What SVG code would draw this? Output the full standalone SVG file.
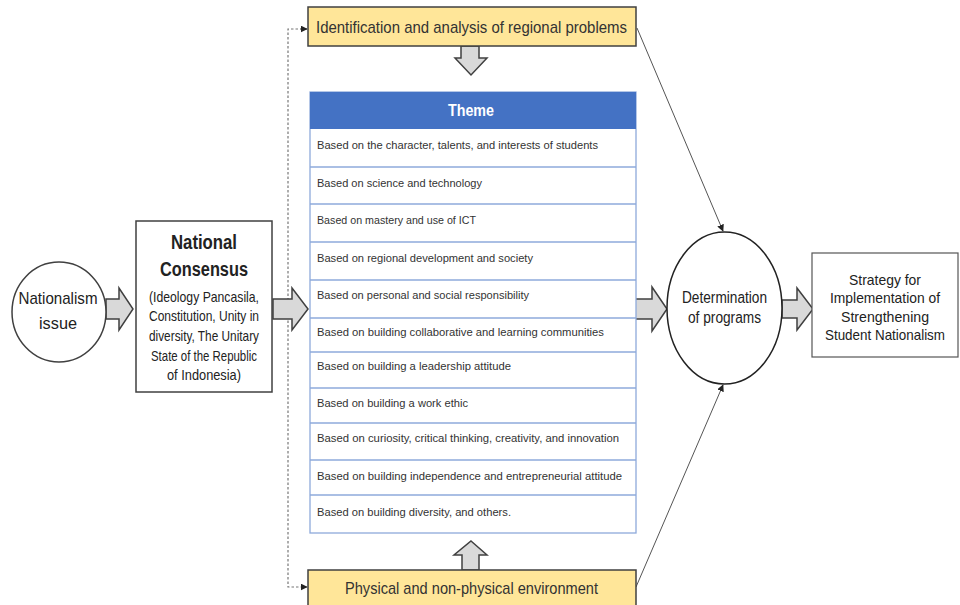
<svg xmlns="http://www.w3.org/2000/svg" width="960" height="605" viewBox="0 0 960 605">
<style>
.blk{fill:#d9d9d9;stroke:#404040;stroke-width:1.5;stroke-linejoin:miter}
.bx{fill:#ffffff;stroke:#404040;stroke-width:1.5}
.yl{fill:#ffe699;stroke:#404040;stroke-width:1.5}
.t{font-family:"Liberation Sans",Arial,sans-serif;fill:#222;text-anchor:middle}
.row{font-family:"Liberation Sans",Arial,sans-serif;font-size:11.5px;fill:#333}
.sep{stroke:#8eaadb;stroke-width:1.3}
.con{fill:none;stroke:#555;stroke-width:1}
.dash{fill:none;stroke:#777;stroke-width:1.2;stroke-dasharray:2.5 2}
.big{font-family:"Liberation Sans",Arial,sans-serif;fill:#333;text-anchor:middle;font-size:17px}
</style>
<defs>
<marker id="ah" viewBox="0 0 10 10" refX="9" refY="5" markerWidth="7" markerHeight="7" orient="auto" markerUnits="userSpaceOnUse">
<path d="M0,0 L10,5 L0,10 z" fill="#222"/>
</marker>
</defs>

<g id="connectors">
<path class="dash" d="M307,29 H288 V587 H307" marker-end="url(#ah)"/>
<path class="dash" d="M300,29 H307" marker-end="url(#ah)"/>
<line class="con" x1="637" y1="28" x2="723" y2="231" marker-end="url(#ah)"/>
<line class="con" x1="636" y1="587" x2="723" y2="385" marker-end="url(#ah)"/>
<polygon class="blk" points="106,299 119,299 119,288 133,309 119,330 119,319 106,319"/>
<polygon class="blk" points="273,299 292,299 292,288 308,309 292,330 292,319 273,319"/>
<polygon class="blk" points="635,299 652,299 652,287 667,309 652,331 652,319 635,319"/>
<polygon class="blk" points="782,300 797,300 797,288 813,309 797,330 797,318 782,318"/>
<polygon class="blk" points="461,46 479,46 479,58 487,58 471,75 455,58 461,58"/>
<polygon class="blk" points="471,541 487,555 479,555 479,570 462,570 462,555 454,555"/>
</g>

<g id="nationalism-issue">
<ellipse cx="59" cy="312" rx="47" ry="50" fill="#fff" stroke="#404040" stroke-width="1.5"/>
<text class="t" x="58" y="304" font-size="17" textLength="79" lengthAdjust="spacingAndGlyphs">Nationalism</text>
<text class="t" x="58" y="329" font-size="17" textLength="38" lengthAdjust="spacingAndGlyphs">issue</text>
</g>

<g id="national-consensus">
<rect class="bx" x="136" y="221" width="136" height="171"/>
<text class="t" x="204" y="249" font-size="20" font-weight="bold" textLength="66" lengthAdjust="spacingAndGlyphs">National</text>
<text class="t" x="204" y="276" font-size="20" font-weight="bold" textLength="88" lengthAdjust="spacingAndGlyphs">Consensus</text>
<text class="t" x="204" y="302" font-size="15" textLength="110" lengthAdjust="spacingAndGlyphs">(Ideology Pancasila,</text>
<text class="t" x="204" y="321" font-size="15" textLength="110" lengthAdjust="spacingAndGlyphs">Constitution, Unity in</text>
<text class="t" x="204" y="341" font-size="15" textLength="110" lengthAdjust="spacingAndGlyphs">diversity, The Unitary</text>
<text class="t" x="204" y="361" font-size="15" textLength="106" lengthAdjust="spacingAndGlyphs">State of the Republic</text>
<text class="t" x="204" y="380" font-size="15" textLength="74" lengthAdjust="spacingAndGlyphs">of Indonesia)</text>
</g>

<g id="regional-problems">
<rect class="yl" x="308" y="7" width="328" height="39"/>
<text class="big" x="471.5" y="33" textLength="311" lengthAdjust="spacingAndGlyphs">Identification and analysis of regional problems</text>
</g>

<g id="theme">
<rect x="310" y="92" width="326" height="441" fill="#fff" stroke="#8eaadb" stroke-width="1.3"/>
<rect x="310" y="92" width="326" height="37" fill="#4472c4"/>
<text x="471" y="116" font-family="'Liberation Sans',Arial,sans-serif" font-size="16" font-weight="bold" fill="#fff" text-anchor="middle" textLength="46" lengthAdjust="spacingAndGlyphs">Theme</text>
<line class="sep" x1="310" y1="167" x2="636" y2="167"/>
<line class="sep" x1="310" y1="204" x2="636" y2="204"/>
<line class="sep" x1="310" y1="242" x2="636" y2="242"/>
<line class="sep" x1="310" y1="280" x2="636" y2="280"/>
<line class="sep" x1="310" y1="318" x2="636" y2="318"/>
<line class="sep" x1="310" y1="352" x2="636" y2="352"/>
<line class="sep" x1="310" y1="388" x2="636" y2="388"/>
<line class="sep" x1="310" y1="423" x2="636" y2="423"/>
<line class="sep" x1="310" y1="460" x2="636" y2="460"/>
<line class="sep" x1="310" y1="495" x2="636" y2="495"/>
<text class="row" x="317" y="149" textLength="281" lengthAdjust="spacingAndGlyphs">Based on the character, talents, and interests of students</text>
<text class="row" x="317" y="187" textLength="165" lengthAdjust="spacingAndGlyphs">Based on science and technology</text>
<text class="row" x="317" y="224" textLength="159" lengthAdjust="spacingAndGlyphs">Based on mastery and use of ICT</text>
<text class="row" x="317" y="262" textLength="216" lengthAdjust="spacingAndGlyphs">Based on regional development and society</text>
<text class="row" x="317" y="299" textLength="212" lengthAdjust="spacingAndGlyphs">Based on personal and social responsibility</text>
<text class="row" x="317" y="336" textLength="287" lengthAdjust="spacingAndGlyphs">Based on building collaborative and learning communities</text>
<text class="row" x="317" y="370" textLength="194" lengthAdjust="spacingAndGlyphs">Based on building a leadership attitude</text>
<text class="row" x="317" y="407" textLength="151" lengthAdjust="spacingAndGlyphs">Based on building a work ethic</text>
<text class="row" x="317" y="442" textLength="302" lengthAdjust="spacingAndGlyphs">Based on curiosity, critical thinking, creativity, and innovation</text>
<text class="row" x="317" y="480" textLength="305" lengthAdjust="spacingAndGlyphs">Based on building independence and entrepreneurial attitude</text>
<text class="row" x="317" y="516" textLength="194" lengthAdjust="spacingAndGlyphs">Based on building diversity, and others.</text>
</g>

<g id="environment">
<rect class="yl" x="308" y="570" width="328" height="40"/>
<text class="big" x="471.5" y="594" textLength="253" lengthAdjust="spacingAndGlyphs">Physical and non-physical environment</text>
</g>

<g id="determination">
<ellipse cx="724.5" cy="308" rx="57.5" ry="76" fill="#fff" stroke="#222" stroke-width="1.5"/>
<text class="t" x="724.5" y="303" font-size="16" textLength="85" lengthAdjust="spacingAndGlyphs">Determination</text>
<text class="t" x="724.5" y="323" font-size="16" textLength="73" lengthAdjust="spacingAndGlyphs">of programs</text>
</g>

<g id="strategy">
<rect x="812" y="253" width="146" height="104" fill="#fff" stroke="#555" stroke-width="1.2"/>
<text class="t" x="885" y="285" font-size="15" textLength="72" lengthAdjust="spacingAndGlyphs">Strategy for</text>
<text class="t" x="885" y="303" font-size="15" textLength="110" lengthAdjust="spacingAndGlyphs">Implementation of</text>
<text class="t" x="885" y="322" font-size="15" textLength="88" lengthAdjust="spacingAndGlyphs">Strengthening</text>
<text class="t" x="885" y="340" font-size="15" textLength="120" lengthAdjust="spacingAndGlyphs">Student Nationalism</text>
</g>
</svg>
